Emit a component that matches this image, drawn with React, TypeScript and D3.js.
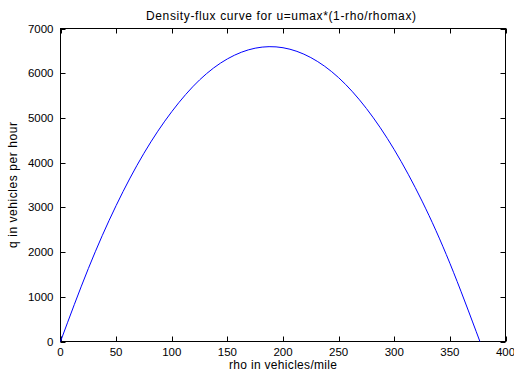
import React, { useEffect, useRef } from 'react';
import * as d3 from 'd3';

// density rho (vehicles/mile) and flux q (vehicles/hour)
const rho = [0, 25, 50, 75, 100, 125, 150, 175, 200, 225, 250, 275, 300, 325, 350, 377];
const flux = [0, 1630, 3040, 4210, 5140, 5850, 6320, 6560, 6570, 6350, 5900, 5210, 4290, 3140, 1750, 0];

const xTicks = [0, 50, 100, 150, 200, 250, 300, 350, 400];
const yTicks = [0, 1000, 2000, 3000, 4000, 5000, 6000, 7000];

const title = 'Density-flux curve for u=umax*(1-rho/rhomax)';
const xLabel = 'rho in vehicles/mile';
const yLabel = 'q in vehicles per hour';

const width = 514;
const height = 375;
const left = 60.5;
const right = 505.5;
const top = 28.5;
const bottom = 341.5;
const tickLen = 5;
const font = '"Liberation Sans", Arial, sans-serif';

export default function App() {
    const svgRef = useRef<SVGSVGElement>(null);

    useEffect(() => {
        const svg = d3.select(svgRef.current);
        svg.selectAll('*').remove();

        const x = d3.scaleLinear().domain([0, 400]).range([left, right]);
        const y = d3.scaleLinear().domain([0, 7000]).range([bottom, top]);

        svg.append('rect')
            .attr('width', width)
            .attr('height', height)
            .attr('fill', '#fff');

        // box
        svg.append('rect')
            .attr('x', left)
            .attr('y', top)
            .attr('width', right - left)
            .attr('height', bottom - top)
            .attr('fill', 'none')
            .attr('stroke', '#000')
            .attr('stroke-width', 1);

        // ticks pointing in, on all four sides
        const tk = svg.append('g').attr('stroke', '#000').attr('stroke-width', 1);
        xTicks.forEach(t => {
            const px = Math.round(x(t)) + 0.5;
            tk.append('line').attr('x1', px).attr('x2', px).attr('y1', bottom).attr('y2', bottom - tickLen);
            tk.append('line').attr('x1', px).attr('x2', px).attr('y1', top).attr('y2', top + tickLen);
        });
        yTicks.forEach(t => {
            const py = Math.round(y(t)) + 0.5;
            tk.append('line').attr('x1', left).attr('x2', left + tickLen).attr('y1', py).attr('y2', py);
            tk.append('line').attr('x1', right).attr('x2', right - tickLen).attr('y1', py).attr('y2', py);
        });

        const labels = svg.append('g')
            .attr('font-family', font)
            .attr('font-size', 12)
            .attr('fill', '#000');

        labels.selectAll('.xt')
            .data(xTicks)
            .join('text')
            .attr('x', d => x(d))
            .attr('y', bottom + 14)
            .attr('font-size', 11.5)
            .attr('text-anchor', 'middle')
            .text(d => d);

        labels.selectAll('.yt')
            .data(yTicks)
            .join('text')
            .attr('x', left - 7)
            .attr('y', d => y(d) + 4)
            .attr('font-size', 11.5)
            .attr('text-anchor', 'end')
            .text(d => d);

        labels.append('text')
            .attr('x', 281)
            .attr('y', 20)
            .attr('text-anchor', 'middle')
            .attr('textLength', 270)
            .text(title);

        labels.append('text')
            .attr('x', (left + right) / 2)
            .attr('y', 369)
            .attr('text-anchor', 'middle')
            .attr('textLength', 108)
            .text(xLabel);

        labels.append('text')
            .attr('transform', `translate(17, ${(top + bottom) / 2}) rotate(-90)`)
            .attr('text-anchor', 'middle')
            .attr('textLength', 126)
            .text(yLabel);

        const line = d3.line<number>()
            .x((d, i) => x(rho[i]))
            .y(d => y(d))
            .curve(d3.curveNatural);

        svg.append('path')
            .datum(flux)
            .attr('d', line)
            .attr('fill', 'none')
            .attr('stroke', '#0000ff')
            .attr('stroke-width', 1);
    }, []);

    return (
        <svg
            ref={svgRef}
            width={width}
            height={height}
            style={{ position: 'absolute', left: 0, top: 0, display: 'block' }}
        />
    );
}
